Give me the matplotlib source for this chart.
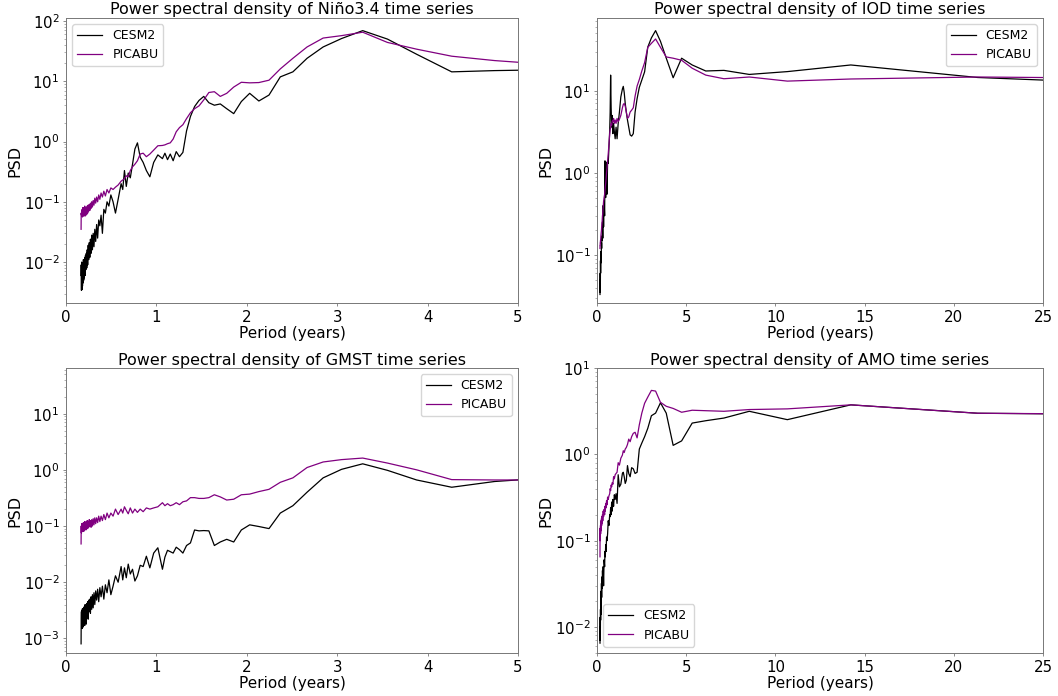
import numpy as np
import matplotlib
matplotlib.use('Agg')
import matplotlib.pyplot as plt

# Welch spectra of monthly series, 512-month segments -> period (yr) = 512 / 12 / k
SEG_MONTHS = 512

# frequency indices kept for the 0-5 yr panels (Nino3.4, GMST)
k_short = list(range(8, 41)) + list(range(42, 71, 2)) + list(range(74, 255, 4)) + [256]
# frequency indices kept for the 0-25 yr panels (IOD, AMO)
k_long = list(range(1, 31)) + list(range(32, 61, 2)) + list(range(64, 101, 4)) + list(range(108, 253, 8)) + [256]

# ---------------- Nino3.4 ----------------
nino_cesm2 = [15.5, 15.0, 14.3, 28, 50, 69, 51, 37, 24, 14.3,
              11.8, 5.9, 4.7, 6.3, 4.6, 2.9, 3.5, 4.2, 4.0, 4.4,
              5.6, 4.8, 3.8, 2.6, 1.5, 0.66, 0.56, 0.68, 0.48, 0.62,
              0.5, 0.64, 0.52,
              0.6, 0.45, 0.26, 0.33, 0.45, 0.55, 0.95, 0.75, 0.42, 0.25,
              0.3, 0.18, 0.33, 0.16, 0.2,
              0.11, 0.065, 0.1, 0.13, 0.085, 0.1, 0.065, 0.075, 0.03, 0.06,
              0.04, 0.05, 0.025, 0.042, 0.022, 0.035, 0.018, 0.03, 0.016, 0.028,
              0.014, 0.024, 0.012, 0.021, 0.011, 0.019, 0.009, 0.016, 0.008, 0.014,
              0.0075, 0.013, 0.006, 0.012, 0.0055, 0.01, 0.005, 0.011, 0.0045, 0.009,
              0.004, 0.008, 0.0035, 0.01, 0.0034, 0.009,
              0.006]
nino_picabu = [19, 22, 26, 34, 44, 65, 57, 52, 37, 24,
               16, 10.4, 9.5, 9.4, 9.6, 8.0, 6.3, 5.6, 6.7, 6.5,
               4.9, 3.9, 3.5, 3.0, 2.4, 1.9, 1.7, 1.45, 1.1, 0.95,
               0.92, 0.88, 0.86,
               0.85, 0.72, 0.62, 0.56, 0.64, 0.62, 0.48, 0.42, 0.38, 0.33,
               0.26, 0.27, 0.24, 0.23, 0.22,
               0.19, 0.175, 0.16, 0.17, 0.14, 0.16, 0.125, 0.15, 0.12, 0.14,
               0.11, 0.13, 0.1, 0.12, 0.095, 0.115, 0.088, 0.105, 0.082, 0.1,
               0.078, 0.095, 0.072, 0.09, 0.07, 0.088, 0.065, 0.085, 0.062, 0.08,
               0.06, 0.078, 0.058, 0.085, 0.06, 0.08, 0.058, 0.075, 0.06, 0.08,
               0.056, 0.075, 0.058, 0.072, 0.06, 0.065,
               0.035]

# ---------------- GMST ----------------
gmst_cesm2 = [0.72, 0.62, 0.49, 0.66, 0.98, 1.28, 1.02, 0.72, 0.4, 0.23,
              0.17, 0.09, 0.098, 0.105, 0.085, 0.052, 0.058, 0.052, 0.045, 0.082,
              0.083, 0.082, 0.085, 0.05, 0.045, 0.033, 0.038, 0.042, 0.033, 0.035,
              0.037, 0.028, 0.017,
              0.041, 0.033, 0.018, 0.029, 0.019, 0.02, 0.013, 0.0105, 0.017, 0.014,
              0.021, 0.012, 0.018, 0.011, 0.019,
              0.01, 0.013, 0.0085, 0.006, 0.011, 0.0065, 0.009, 0.005, 0.0085, 0.0055,
              0.008, 0.0045, 0.0075, 0.0048, 0.007, 0.004, 0.0065, 0.0035, 0.006, 0.0033,
              0.0055, 0.0028, 0.005, 0.003, 0.0048, 0.0022, 0.0045, 0.0025, 0.0042, 0.0018,
              0.0038, 0.0022, 0.004, 0.0017, 0.0035, 0.002, 0.0036, 0.0016, 0.0033, 0.0019,
              0.0034, 0.0015, 0.0032, 0.0018, 0.003, 0.0022,
              0.0008]
gmst_picabu = [0.66, 0.66, 0.67, 1.0, 1.32, 1.62, 1.52, 1.38, 1.1, 0.72,
               0.6, 0.45, 0.41, 0.37, 0.36, 0.3, 0.29, 0.33, 0.36, 0.32,
               0.31, 0.31, 0.32, 0.32, 0.28, 0.27, 0.24, 0.26, 0.24, 0.23,
               0.25, 0.23, 0.26,
               0.22, 0.21, 0.2, 0.21, 0.18, 0.2, 0.175, 0.2, 0.17, 0.21,
               0.165, 0.19, 0.22, 0.17, 0.2,
               0.16, 0.2, 0.15, 0.17, 0.14, 0.17, 0.13, 0.16, 0.125, 0.15,
               0.12, 0.15, 0.115, 0.14, 0.11, 0.14, 0.105, 0.135, 0.1, 0.13,
               0.095, 0.125, 0.1, 0.13, 0.095, 0.12, 0.09, 0.125, 0.09, 0.12,
               0.085, 0.115, 0.09, 0.12, 0.085, 0.11, 0.08, 0.115, 0.085, 0.11,
               0.08, 0.105, 0.085, 0.11, 0.075, 0.1,
               0.048]

# ---------------- IOD ----------------
iod_cesm2 = [9.5, 14.5, 20.6, 17.1, 15.8, 17.7, 17.4, 20.6, 24.9, 14.4,
             25, 40, 54, 44, 34, 17, 13.5, 11, 8, 5.5,
             3.0, 2.8, 2.9, 3.6, 4.4, 5.5, 7.0, 9.5, 11.3, 10.5,
             8.4, 5.5, 4.0, 2.6, 3.6, 2.6, 3.2, 4.0, 3.0, 5.0,
             3.6, 6.3, 15.5, 5.5, 3.3,
             2.0, 1.3, 1.4, 0.55, 0.9, 1.35, 0.5, 0.8, 1.4, 0.3,
             0.45, 0.22, 0.4, 0.16, 0.25, 0.15, 0.17, 0.12, 0.14, 0.1,
             0.11, 0.08, 0.1, 0.06, 0.085, 0.045, 0.06, 0.035, 0.05,
             0.033]
iod_picabu = [13.5, 14.7, 13.9, 13.1, 14.7, 14.0, 15.5, 18.8, 23.5, 24.9,
              25.8, 33.8, 42.7, 37.8, 33.8, 22, 17.4, 13.7, 11.4, 8.6,
              6.2, 5.8, 5.5, 4.8, 4.6, 5.5, 6.5, 7.0, 6.8, 6.2,
              5.0, 4.5, 4.2, 4.6, 4.0, 4.4, 4.0, 4.6, 4.2, 4.3,
              3.8, 4.0, 3.5, 3.4, 3.0,
              2.2, 1.7, 1.4, 1.15, 1.0, 0.85, 0.75, 0.68, 0.6, 0.55,
              0.5, 0.45, 0.38, 0.32, 0.3, 0.26, 0.24, 0.22, 0.2, 0.19,
              0.18, 0.17, 0.16, 0.15, 0.15, 0.14, 0.14, 0.13, 0.13,
              0.12]

# ---------------- AMO ----------------
amo_cesm2 = [2.75, 2.99, 3.74, 2.52, 3.15, 2.63, 2.45, 2.3, 1.43, 1.27,
             3.0, 3.95, 3.0, 2.8, 2.0, 1.6, 1.35, 1.15, 0.62, 0.6,
             0.68, 0.7, 0.55, 0.6, 0.74, 0.5, 0.46, 0.55, 0.62, 0.6,
             0.45, 0.42, 0.58, 0.27, 0.35, 0.3, 0.34, 0.25, 0.3, 0.22,
             0.28, 0.2, 0.24, 0.19, 0.2,
             0.15, 0.17, 0.12, 0.1, 0.11, 0.075, 0.09, 0.065, 0.075, 0.05,
             0.06, 0.03, 0.05, 0.035, 0.045, 0.028, 0.038, 0.022, 0.032, 0.018,
             0.026, 0.014, 0.02, 0.012, 0.016, 0.009, 0.013, 0.007, 0.01,
             0.0065]
amo_picabu = [2.8, 2.99, 3.74, 3.36, 3.3, 3.15, 3.2, 3.24, 3.07, 3.4,
              3.6, 4.0, 5.4, 5.5, 4.6, 3.9, 3.0, 2.2, 1.55, 1.8,
              1.75, 1.6, 1.4, 1.5, 1.3, 1.2, 1.15, 1.05, 1.1, 0.98,
              0.9, 0.75, 0.8, 0.62, 0.6, 0.58, 0.52, 0.55, 0.45, 0.47,
              0.42, 0.44, 0.38, 0.4, 0.35,
              0.33, 0.3, 0.32, 0.26, 0.29, 0.24, 0.27, 0.22, 0.25, 0.2,
              0.23, 0.19, 0.22, 0.17, 0.2, 0.16, 0.19, 0.15, 0.18, 0.14,
              0.17, 0.13, 0.16, 0.12, 0.15, 0.11, 0.14, 0.1, 0.12,
              0.065]

period_short = SEG_MONTHS / 12 / np.array(k_short)
period_long = SEG_MONTHS / 12 / np.array(k_long)

panels = [
    # name, periods, cesm2, picabu, xmax, xticks, ylim, legend loc, axes rect
    ('Niño3.4', period_short, nino_cesm2, nino_picabu, 5, range(0, 6),
     (0.0021, 112), 'upper left', [0.0624, 0.5647, 0.4272, 0.4095]),
    ('IOD', period_long, iod_cesm2, iod_picabu, 25, range(0, 26, 5),
     (0.026, 77), 'upper right', [0.5643, 0.5647, 0.4216, 0.4095]),
    ('GMST', period_short, gmst_cesm2, gmst_picabu, 5, range(0, 6),
     (0.00055, 65), 'upper right', [0.0624, 0.0618, 0.4272, 0.4095]),
    ('AMO', period_long, amo_cesm2, amo_picabu, 25, range(0, 26, 5),
     (0.005, 10), 'lower left', [0.5643, 0.0618, 0.4216, 0.4095]),
]

fig = plt.figure(figsize=(10.58, 6.96), dpi=100)

for name, per, cesm, pica, xmax, xt, ylim, loc, rect in panels:
    ax = fig.add_axes(rect)
    ax.plot(per, cesm, color='black', lw=0.9, label='CESM2')
    ax.plot(per, pica, color='purple', lw=0.9, label='PICABU')
    ax.set_yscale('log')
    ax.set_xlim(0, xmax)
    ax.set_ylim(*ylim)
    ax.set_xticks(list(xt))
    ax.set_title(f'Power spectral density of {name} time series', fontsize=11.5, pad=2.5)
    ax.set_xlabel('Period (years)', fontsize=11, labelpad=1)
    ax.set_ylabel('PSD', fontsize=11.5, labelpad=1)
    ax.tick_params(which='major', labelsize=10.8, length=2.4, width=0.6,
                   pad=2.4, color='#777777')
    ax.tick_params(which='minor', length=1.4, width=0.4, color='#777777')
    for sp in ax.spines.values():
        sp.set_color('#777777')
        sp.set_linewidth(0.7)
    ax.legend(loc=loc, fontsize=9)

fig.savefig('out.png', dpi=100)
